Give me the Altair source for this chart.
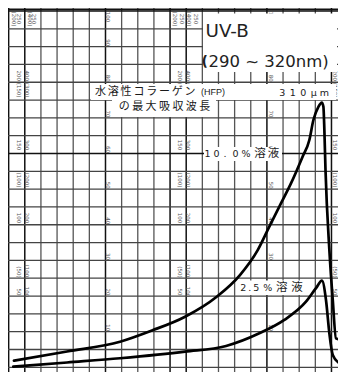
import altair as alt
import pandas as pd

# ---------------- data ----------------
# grid (x in chart-paper columns, y in % transmittance)
grid_cols = list(range(0, 22))
grid_rows = list(range(0, 101, 5))
dark_cols = [0, 1, 6, 10, 11, 16, 20]
dark_rows = [60, 100]

# absorption curves
pos_10 = [0.33, 3.62, 6.90, 8.88, 10.93, 12.89, 14.33, 15.43, 16.15, 16.87, 17.49, 18.21,
          18.63, 18.88, 19.19, 19.40, 19.50, 19.56, 19.63, 19.87, 20.08, 20.28, 20.59, 20.90]
val_10 = [1.85, 4.43, 7.18, 10.33, 14.20, 19.81, 25.9, 32.9, 39.5, 46.0, 51.6, 59.1,
          63.8, 69.4, 73.1, 74.3, 73.1, 66.6, 55.4, 32.9, 18.9, 8.1, 7.7, 7.2]
pos_25 = [0.29, 3.62, 6.90, 10.93, 13.47, 15.53, 17.08, 18.42, 19.04, 19.41, 19.66, 19.87,
          20.08, 20.49, 20.90]
val_25 = [0.17, 1.35, 2.53, 4.38, 5.98, 9.54, 13.3, 18.4, 22.2, 24.3, 18.9, 9.54,
          3.45, 1.12, 0.17]

# printed scale labels on the paper
t_labels = ["100", "90", "80", "70", "60", "50", "40", "30", "20", "10"]
t_values = [100, 90, 80, 70, 60, 50, 40, 30, 20, 10]
clusterA = ["200 (150)", "150", "(100)", "100", "(50)", "50"]
clusterB = ["400 (300)", "300", "(200)", "200", "(100)", "100"]
cluster_top = ["(200)", "250", "(400)", "250"]

# ---------------- layout helpers ----------------
W, H = 330, 364
KX = 20.94 / 338          # columns per pixel
KY = 101.6 / 362          # percent per pixel
XD = [-0.04, -0.04 + W * KX]
YD = [100.84 - H * KY, 100.84]


def gx(px):
    return XD[0] + (px - 8) * KX


def gy(py):
    return YD[1] - (py - 8) * KY


xsc = alt.Scale(domain=XD, nice=False, zero=False)
ysc = alt.Scale(domain=YD, nice=False, zero=False)
X = lambda f="x": alt.X(f"{f}:Q", scale=xsc, axis=None)
Y = lambda f="y": alt.Y(f"{f}:Q", scale=ysc, axis=None)

# grid
vg = pd.DataFrame({"x": grid_cols,
                   "c": ["#111" if c in dark_cols else "#555" for c in grid_cols],
                   "w": [1.5 if c in dark_cols else 1.3 for c in grid_cols]})
hg = pd.DataFrame({"y": grid_rows + [100.45],
                   "c": ["#111" if r in dark_rows else "#444" for r in grid_rows] + ["#111"],
                   "w": [1.5 if r in dark_rows else 1.3 for r in grid_rows] + [1.6]})

vgrid = alt.Chart(vg).mark_rule().encode(
    x=X(), color=alt.Color("c:N", scale=None), strokeWidth=alt.StrokeWidth("w:Q", scale=None))
hgrid = alt.Chart(hg).mark_rule().encode(
    y=Y(), color=alt.Color("c:N", scale=None), strokeWidth=alt.StrokeWidth("w:Q", scale=None))

# rotated small scale labels
rows = []
for px in [108, 271]:
    for lab, v in zip(t_labels, t_values):
        rows.append({"x": gx(px), "y": 98.3 if v == 100 else v + 1.1, "t": lab})
grp_py = [84, 145, 180, 218, 272, 292]
for ax_, bx_ in [(18.5, 27), (180, 188)]:
    for a, b, py in zip(clusterA, clusterB, grp_py):
        rows.append({"x": gx(ax_), "y": gy(py), "t": a})
        rows.append({"x": gx(bx_), "y": gy(py), "t": b})
for a, py in zip(clusterA, grp_py):
    rows.append({"x": gx(335), "y": gy(py), "t": a})
for xs_ in [[13.5, 18.5, 30, 33.5], [175, 181.5, 188.5, 195.5]]:
    for px, lab in zip(xs_, cluster_top):
        rows.append({"x": gx(px), "y": gy(19), "t": lab})
small = alt.Chart(pd.DataFrame(rows)).mark_text(
    angle=90, font="DejaVu Sans", fontSize=5.5, color="#555", align="center", baseline="middle"
).encode(x=X(), y=Y(), text="t:N")

# white label backgrounds
boxes = pd.DataFrame([
    {"x": gx(203), "x2": gx(337), "y": gy(13.5), "y2": gy(72)},
    {"x": gx(91), "x2": gx(336), "y": gy(84), "y2": gy(100)},
    {"x": gx(112), "x2": gx(216), "y": gy(99.5), "y2": gy(117)},
    {"x": gx(204), "x2": gx(282), "y": gy(147), "y2": gy(161)},
    {"x": gx(237), "x2": gx(305), "y": gy(280.5), "y2": gy(295)},
])
white = alt.Chart(boxes).mark_rect(color="white").encode(
    x=X(), x2="x2:Q", y=Y(), y2="y2:Q")

# curves
cdf = pd.concat([
    pd.DataFrame({"x": pos_10, "y": val_10, "s": "10.0%"}),
    pd.DataFrame({"x": pos_25, "y": val_25, "s": "2.5%"}),
])
curves = alt.Chart(cdf).mark_line(interpolate="monotone", color="black", strokeWidth=2.7,
                                  strokeCap="round").encode(x=X(), y=Y(), detail="s:N")

# spaced label characters
cjk, lat = [], []


def put(text, centers, py, size, target):
    for ch, cx in zip(text, centers):
        target.append({"x": gx(cx), "y": gy(py), "t": ch, "s": size})


put("水溶性コラーゲン", [100.5 + 12.8 * i for i in range(8)], 92, 11, cjk)
put("の最大吸収波長", [124.3 + 13.4 * i for i in range(7)], 107, 11, cjk)
put("310μm", [282.25 + 10.5 * i for i in range(5)], 93.3, 9.5, lat)
put("10.0%", [207.5, 216.5, 225, 235.5, 246], 154.3, 9.5, lat)
put("溶液", [260, 273.5], 154.3, 11.5, cjk)
put("2.5%", [243.3, 249.8, 256.3, 267.7], 288, 9.5, lat)
put("溶液", [281.8, 297], 288, 11.5, cjk)

cjk_l = alt.Chart(pd.DataFrame(cjk)).mark_text(
    font="Noto Sans CJK JP", color="#1a1a1a", align="center", baseline="middle"
).encode(x=X(), y=Y(), text="t:N", size=alt.Size("s:Q", scale=None))
lat_l = alt.Chart(pd.DataFrame(lat)).mark_text(
    font="DejaVu Sans", color="#1a1a1a", align="center", baseline="middle"
).encode(x=X(), y=Y(), text="t:N", size=alt.Size("s:Q", scale=None))

hfp = alt.Chart(pd.DataFrame([{"x": gx(201), "y": gy(92), "t": "(HFP)"}])).mark_text(
    font="Liberation Sans", fontSize=9, color="#1a1a1a", align="left", baseline="middle"
).encode(x=X(), y=Y(), text="t:N")

uvb = alt.Chart(pd.DataFrame([
    {"x": gx(205.5), "y": gy(37.3), "t": "UV-B", "s": 18.3},
    {"x": gx(208.5), "y": gy(66.7), "t": "290 ~ 320nm)", "s": 16.5},
])).mark_text(font="DejaVu Sans", color="#222", align="left", baseline="alphabetic").encode(
    x=X(), y=Y(), text="t:N", size=alt.Size("s:Q", scale=None))
paren = alt.Chart(pd.DataFrame([{"x": gx(201.5), "y": gy(65.5), "t": "("}])).mark_text(
    font="DejaVu Sans", fontWeight="bold", fontSize=14, color="#222", align="left",
    baseline="alphabetic").encode(x=X(), y=Y(), text="t:N")

chart = alt.layer(vgrid, hgrid, small, white, curves, cjk_l, lat_l, hfp, uvb, paren).properties(
    width=W, height=H, padding=0, autosize=alt.AutoSizeParams(type="none")
).configure_view(stroke=None)

chart.save("out.html", embed_options={"renderer": "svg", "actions": False})
